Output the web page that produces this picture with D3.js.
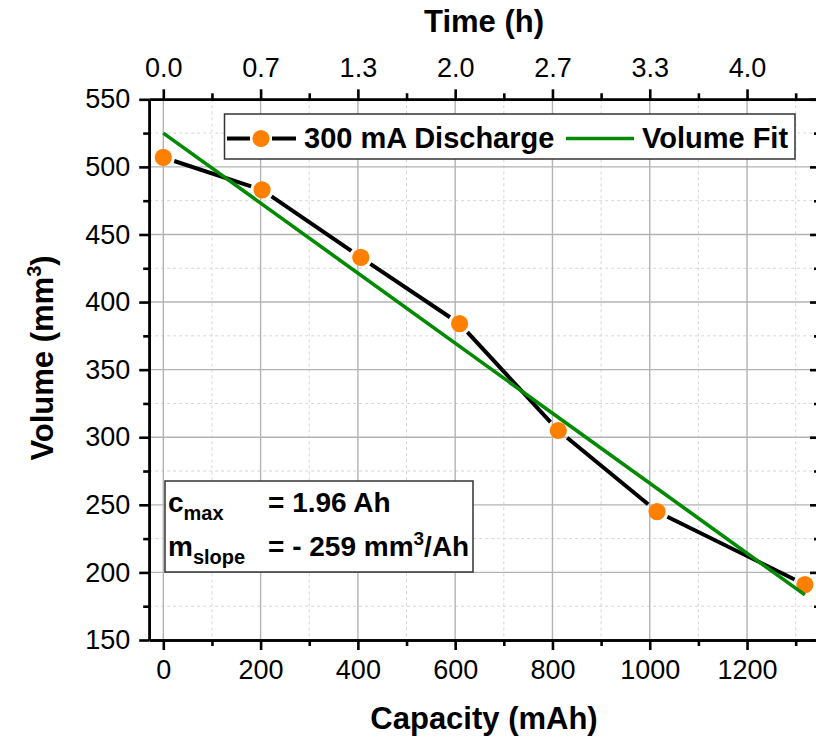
<!DOCTYPE html>
<html>
<head>
<meta charset="utf-8">
<script src="https://cdn.jsdelivr.net/npm/d3@7"></script>
<style>
  html, body { margin: 0; padding: 0; background: #ffffff; }
  svg { display: block; }
  text { font-family: Arial, "Liberation Sans", sans-serif; fill: #000; }
</style>
</head>
<body>
<svg id="chart" width="816" height="738"></svg>
<script>
// Measured discharge: capacity (mAh) vs. cell volume (mm^3)
const capacity = [0, 203, 406, 609, 812, 1015, 1319];
const volume   = [507, 483, 433, 384, 305, 245, 191];

// Linear volume fit: V = intercept + slope * capacity
const fitIntercept = 525;        // mm^3
const fitSlope = -259;           // mm^3 / Ah
const fitRange = [0, 1319];      // mAh

const dischargeCurrent = 300;    // mA, converts capacity to time

// Axis ticks
const xMajor = [0, 200, 400, 600, 800, 1000, 1200];
const xMinor = [100, 300, 500, 700, 900, 1100, 1300];
const yMajor = [150, 200, 250, 300, 350, 400, 450, 500, 550];
const yMinor = [175, 225, 275, 325, 375, 425, 475, 525];
const timeLabels = ["0.0", "0.7", "1.3", "2.0", "2.7", "3.3", "4.0"];

const legendLabels = ["300 mA Discharge", "Volume Fit"];

const svg = d3.select("#chart");
const W = 816, H = 738;
const plot = { left: 149.2, right: 820, top: 99.3, bottom: 640 };

const x = d3.scaleLinear().domain([-29, 1350]).range([plot.left, plot.right]);
const y = d3.scaleLinear().domain([150, 550]).range([plot.bottom, plot.top]);

svg.append("rect").attr("width", W).attr("height", H).attr("fill", "#fff");

// Grid
const grid = svg.append("g");
grid.selectAll(".gxm").data(xMinor).join("line")
  .attr("x1", d => x(d)).attr("x2", d => x(d))
  .attr("y1", plot.top).attr("y2", plot.bottom)
  .attr("stroke", "#d6d6d6").attr("stroke-width", 1).attr("stroke-dasharray", "3,3");
grid.selectAll(".gym").data(yMinor).join("line")
  .attr("y1", d => y(d)).attr("y2", d => y(d))
  .attr("x1", plot.left).attr("x2", plot.right)
  .attr("stroke", "#d6d6d6").attr("stroke-width", 1).attr("stroke-dasharray", "3,3");
grid.selectAll(".gx").data(xMajor).join("line")
  .attr("x1", d => x(d)).attr("x2", d => x(d))
  .attr("y1", plot.top).attr("y2", plot.bottom)
  .attr("stroke", "#b3b3b3").attr("stroke-width", 1.4);
grid.selectAll(".gy").data(yMajor).join("line")
  .attr("y1", d => y(d)).attr("y2", d => y(d))
  .attr("x1", plot.left).attr("x2", plot.right)
  .attr("stroke", "#b3b3b3").attr("stroke-width", 1.4);

// Data line, broken around each marker
const pts = capacity.map((c, i) => [x(c), y(volume[i])]);
const gap = 11.5;
const segs = d3.pairs(pts).map(([a, b]) => {
  const dx = b[0] - a[0], dy = b[1] - a[1];
  const len = Math.hypot(dx, dy);
  const ux = dx / len, uy = dy / len;
  return [a[0] + ux * gap, a[1] + uy * gap, b[0] - ux * gap, b[1] - uy * gap];
});
svg.append("g").selectAll("line").data(segs).join("line")
  .attr("x1", d => d[0]).attr("y1", d => d[1])
  .attr("x2", d => d[2]).attr("y2", d => d[3])
  .attr("stroke", "#000").attr("stroke-width", 4);

svg.append("g").selectAll("circle").data(pts).join("circle")
  .attr("cx", d => d[0]).attr("cy", d => d[1]).attr("r", 8.6)
  .attr("fill", "#ff8000");

// Fit line
const fitLine = d3.line().x(d => x(d)).y(d => y(fitIntercept + fitSlope / 1000 * d));
svg.append("path").datum(fitRange).attr("d", fitLine)
  .attr("fill", "none").attr("stroke", "#008a00").attr("stroke-width", 3.6);

// Axes
function styleAxis(g) {
  g.select(".domain").attr("stroke", "#000").attr("stroke-width", 2.6);
  g.selectAll(".tick line").attr("stroke", "#000").attr("stroke-width", 2.6);
  g.selectAll(".tick text").attr("font-size", 27).attr("fill", "#000")
    .attr("font-family", "Arial, 'Liberation Sans', sans-serif");
}

// bottom
const gb = svg.append("g").attr("transform", `translate(0,${plot.bottom})`);
gb.call(d3.axisBottom(x).tickValues(xMinor).tickSize(6).tickFormat("").tickSizeOuter(0)).call(styleAxis);
const gb2 = svg.append("g").attr("transform", `translate(0,${plot.bottom})`);
gb2.call(d3.axisBottom(x).tickValues(xMajor).tickFormat(d3.format("d"))
  .tickSize(10).tickPadding(10).tickSizeOuter(0)).call(styleAxis);
gb2.selectAll(".tick text").attr("dy", "0.71em");

// top: time axis (capacity / current)
const xTime = d3.scaleLinear().domain(x.domain().map(c => c / dischargeCurrent)).range(x.range());
const gt = svg.append("g").attr("transform", `translate(0,${plot.top})`);
gt.call(d3.axisTop(xTime).tickValues(xMinor.map(c => c / dischargeCurrent)).tickSize(6).tickFormat("").tickSizeOuter(0)).call(styleAxis);
const gt2 = svg.append("g").attr("transform", `translate(0,${plot.top})`);
gt2.call(d3.axisTop(xTime).tickValues(xMajor.map(c => c / dischargeCurrent))
  .tickFormat((d, i) => timeLabels[i]).tickSize(10).tickPadding(12).tickSizeOuter(0)).call(styleAxis);

// left
const gl = svg.append("g").attr("transform", `translate(${plot.left},0)`);
gl.call(d3.axisLeft(y).tickValues(yMinor).tickSize(6).tickFormat("").tickSizeOuter(0)).call(styleAxis);
const gl2 = svg.append("g").attr("transform", `translate(${plot.left},0)`);
gl2.call(d3.axisLeft(y).tickValues(yMajor).tickSize(10).tickPadding(9).tickSizeOuter(0)).call(styleAxis);

// right (ticks pointing inward)
const gr = svg.append("g").attr("transform", `translate(${plot.right},0)`);
gr.call(d3.axisLeft(y).tickValues(yMinor).tickSize(6).tickFormat("").tickSizeOuter(0)).call(styleAxis);
const gr2 = svg.append("g").attr("transform", `translate(${plot.right},0)`);
gr2.call(d3.axisLeft(y).tickValues(yMajor).tickSize(10).tickFormat("").tickSizeOuter(0)).call(styleAxis);

// Axis titles
svg.append("text").attr("x", 484).attr("y", 32).attr("text-anchor", "middle")
  .attr("font-size", 31).attr("font-weight", "bold").text("Time (h)");
svg.append("text").attr("x", 484).attr("y", 729).attr("text-anchor", "middle")
  .attr("font-size", 31).attr("font-weight", "bold").text("Capacity (mAh)");
const yt = svg.append("text").attr("transform", "translate(53,358) rotate(-90)")
  .attr("text-anchor", "middle").attr("font-size", 31).attr("font-weight", "bold");
yt.append("tspan").text("Volume (mm");
yt.append("tspan").attr("font-size", 20).attr("dy", -12).text("3");
yt.append("tspan").attr("dy", 12).text(")");

// Legend
const lg = svg.append("g");
lg.append("rect").attr("x", 224.5).attr("y", 114).attr("width", 570.5).attr("height", 45)
  .attr("fill", "#fff").attr("stroke", "#333").attr("stroke-width", 1.5);
const ly = 138.5;
lg.append("line").attr("x1", 227).attr("x2", 250).attr("y1", ly).attr("y2", ly)
  .attr("stroke", "#000").attr("stroke-width", 4);
lg.append("line").attr("x1", 272).attr("x2", 296).attr("y1", ly).attr("y2", ly)
  .attr("stroke", "#000").attr("stroke-width", 4);
lg.append("circle").attr("cx", 261).attr("cy", ly).attr("r", 8.6).attr("fill", "#ff8000");
lg.append("text").attr("x", 304).attr("y", 148).attr("font-size", 29).attr("font-weight", "bold")
  .text(legendLabels[0]);
lg.append("line").attr("x1", 566).attr("x2", 634).attr("y1", ly).attr("y2", ly)
  .attr("stroke", "#008a00").attr("stroke-width", 3.6);
lg.append("text").attr("x", 642).attr("y", 148).attr("font-size", 29).attr("font-weight", "bold")
  .text(legendLabels[1]);

// Fit parameters box
const cMaxAh = 1.96;
const ab = svg.append("g");
ab.append("rect").attr("x", 165).attr("y", 481).attr("width", 308).attr("height", 91)
  .attr("fill", "#fff").attr("stroke", "#333").attr("stroke-width", 1.5);
const t1 = ab.append("text").attr("x", 168).attr("y", 512).attr("font-size", 28).attr("font-weight", "bold");
t1.append("tspan").text("c");
t1.append("tspan").attr("font-size", 20).attr("dy", 8).text("max");
ab.append("text").attr("x", 268).attr("y", 512).attr("font-size", 28).attr("font-weight", "bold")
  .text(`= ${cMaxAh.toFixed(2)} Ah`);
const t2 = ab.append("text").attr("x", 168).attr("y", 556).attr("font-size", 28).attr("font-weight", "bold");
t2.append("tspan").text("m");
t2.append("tspan").attr("font-size", 20).attr("dy", 8).text("slope");
const t3 = ab.append("text").attr("x", 268).attr("y", 556).attr("font-size", 28).attr("font-weight", "bold");
t3.append("tspan").text(`= - ${Math.abs(fitSlope)} mm`);
t3.append("tspan").attr("font-size", 19).attr("dy", -11).text("3");
t3.append("tspan").attr("dy", 11).text("/Ah");
</script>
</body>
</html>
